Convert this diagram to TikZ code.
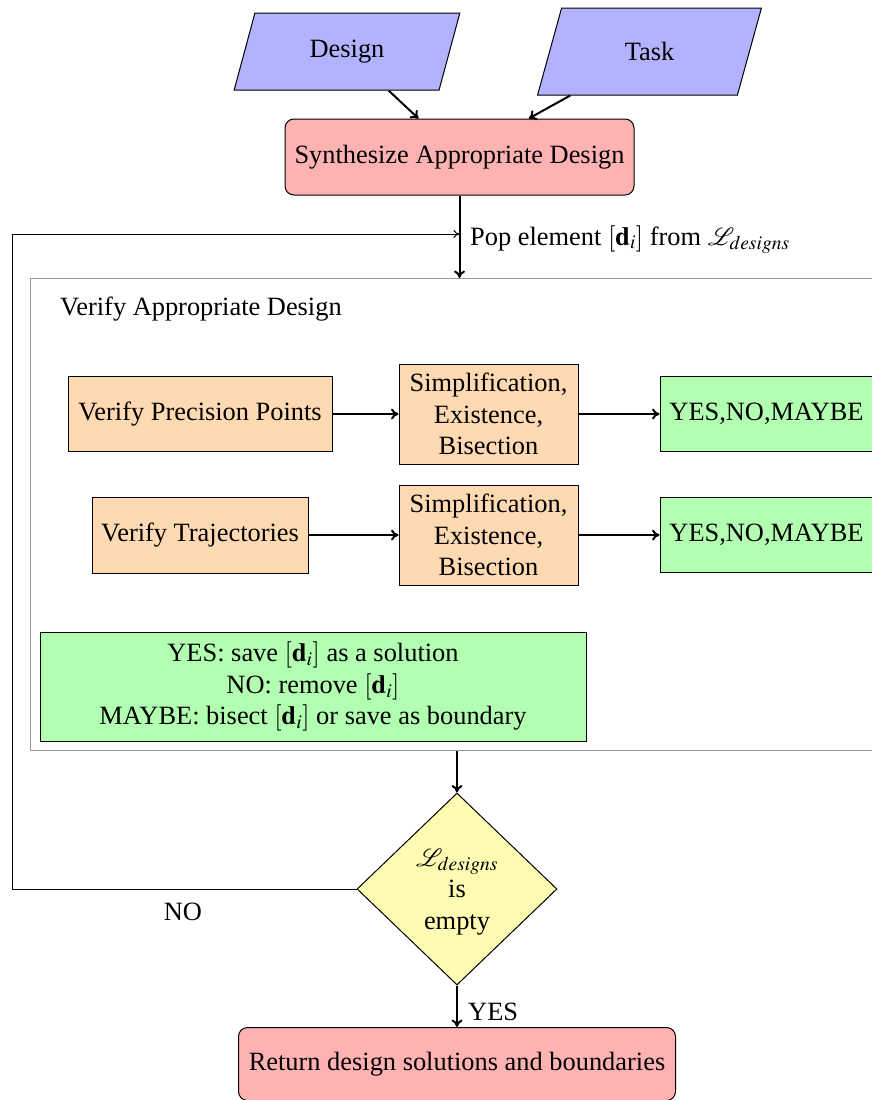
\documentclass[tikz,border=0pt]{standalone}
\usepackage{mathptmx}
\usepackage{mathrsfs}
\usepackage{fontspec}
\setmainfont{Liberation Serif}
\usetikzlibrary{shapes.geometric,arrows.meta}
\begin{document}
\begin{tikzpicture}[x=1pt,y=-1pt,
  font=\fontsize{26.4}{31.5}\selectfont,
  boxio/.style={trapezium, trapezium left angle=70, trapezium right angle=110, trapezium stretches=true, draw, fill=blue!30, line width=1pt, inner sep=0pt},
  boxproc/.style={rectangle, rounded corners=9pt, draw, fill=red!30, line width=1pt, inner sep=0pt},
  boxsub/.style={rectangle, draw, fill=orange!30, line width=1pt, inner sep=0pt, align=center},
  boxres/.style={rectangle, draw, fill=green!30, line width=1pt, inner sep=0pt, align=center},
  boxdec/.style={diamond, draw, fill=yellow!30, line width=1pt, inner sep=0pt, align=center},
  flow/.style={-{To[length=7.5pt,width=11pt]}, line width=2pt},
  loopline/.style={-{To[length=6pt,width=8pt]}, line width=1pt},
]
\useasboundingbox (0,0) rectangle (872,1100);
\clip (0,0) rectangle (872,1100);

% container
\node[draw=gray!80, line width=1pt, anchor=north west, minimum width=880pt, minimum height=472pt, inner sep=0pt] (verify) at (30,278) {};
\node[anchor=base west, inner sep=0pt] (vtitle) at (60,315) {Verify Appropriate Design};

% top
\node[boxio, minimum width=226pt, minimum height=77pt] (design) at (347,51.5) {Design};
\node[boxio, minimum width=225pt, minimum height=87pt] (task) at (649.5,51.5) {Task};
\node[boxproc, minimum width=349pt, minimum height=76pt] (synth) at (459.5,157) {Synthesize Appropriate Design};

% inner rows
\node[boxsub, minimum width=264pt, minimum height=75pt] (vpp) at (200,414) {Verify Precision Points};
\node[boxsub, minimum width=179pt, minimum height=100pt] (simpa) at (488.5,414) {Simplification,\\Existence,\\Bisection};
\node[boxres, minimum width=213pt, minimum height=75pt] (ynma) at (766.5,414) {YES,NO,MAYBE};

\node[boxsub, minimum width=216pt, minimum height=76pt] (vt) at (200,535) {Verify Trajectories};
\node[boxsub, minimum width=179pt, minimum height=100pt] (simpb) at (488.5,535) {Simplification,\\Existence,\\Bisection};
\node[boxres, minimum width=213pt, minimum height=75pt] (ynmb) at (766.5,535) {YES,NO,MAYBE};

\node[boxres, minimum width=546pt, minimum height=109pt] (rules) at (313,686.5) {YES: save \([\mathbf{d}_i]\) as a solution\\NO: remove \([\mathbf{d}_i]\)\\MAYBE: bisect \([\mathbf{d}_i]\) or save as boundary};

% decision and end
\node[boxdec, minimum width=200pt, minimum height=192pt] (dec) at (457,889) {};
\node[align=center, inner sep=0pt] (dectext) at (457,892) {\(\mathscr{L}_{designs}\)\\is\\empty};
\node[boxproc, minimum width=437pt, minimum height=73pt] (ret) at (457,1064) {Return design solutions and boundaries};

% labels
\node[anchor=base west, inner sep=0pt] (poplbl) at (470,245) {Pop element \([\mathbf{d}_i]\) from \(\mathscr{L}_{designs}\)};
\node[inner sep=0pt] (nolbl) at (183,912) {NO};
\node[anchor=base west, inner sep=0pt] (yeslbl) at (468,1020) {YES};

% connectors
\draw[flow] (design) -- (synth);
\draw[flow] (task) -- (synth);
\draw[flow] (synth.south) -- (synth.south |- verify.north);
\coordinate (loopin) at (459.5,234);
\coordinate (loopcorner) at (12,234);
\draw[loopline] (dec.west) -| (loopcorner) -- (loopin);

\draw[flow] (vpp) -- (simpa);
\draw[flow] (simpa) -- (ynma);
\draw[flow] (vt) -- (simpb);
\draw[flow] (simpb) -- (ynmb);

\draw[flow] (verify.south -| dec.north) -- (dec.north);
\draw[flow] (dec.south) -- (ret.north);
\end{tikzpicture}
\end{document}
